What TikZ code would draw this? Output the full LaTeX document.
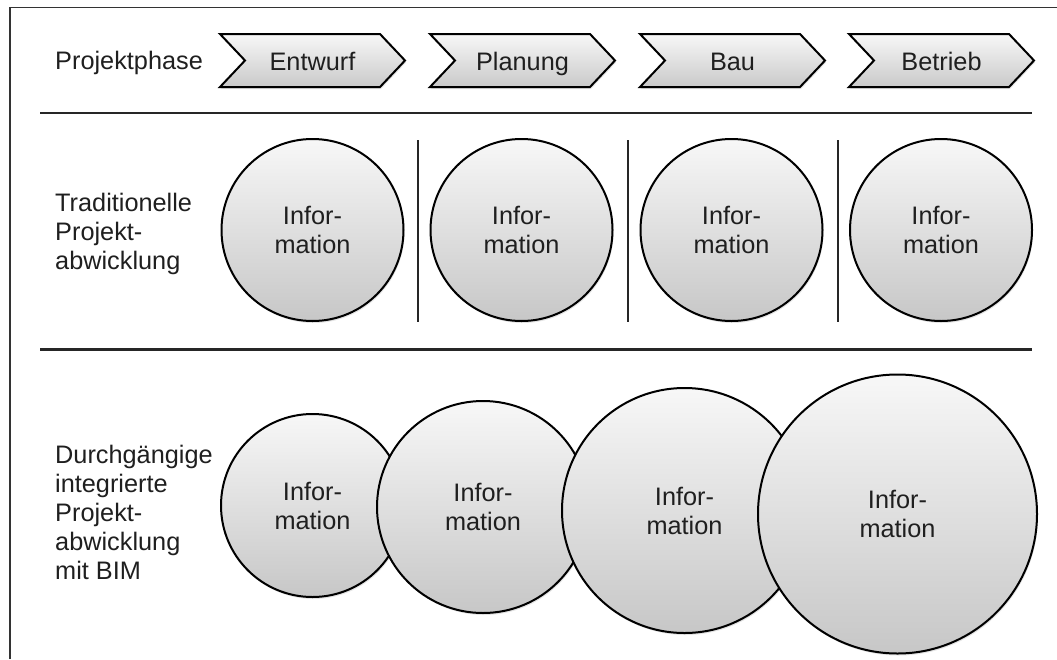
\documentclass[tikz,border=0pt]{standalone}
\usepackage{fontspec}
\setmainfont{Liberation Sans}
\usetikzlibrary{shadows}
\begin{document}
\begin{tikzpicture}[x=1pt,y=-1pt,
  txt/.style={font=\fontsize{25.3}{29}\selectfont, text=black!88, inner sep=0pt},
  bubble/.style={circle, draw=black, line width=2pt, top color=black!3, bottom color=black!22,
    inner sep=0pt, align=center, txt,
    drop shadow={shadow xshift=1pt, shadow yshift=-2pt, opacity=0.22}},
  chev/.style={draw=black, line width=2pt, line join=miter, top color=black!3, bottom color=black!21,
    drop shadow={shadow xshift=1pt, shadow yshift=-2pt, opacity=0.22}},
  rulel/.style={line width=2.2pt, draw=black!85},
  sepl/.style={line width=1.8pt, draw=black!85},
  framel/.style={line width=1.8pt, draw=black!80},
]
\useasboundingbox (0,0) rectangle (1057,659);
% frame
\draw[framel] (10,659) -- (10,7.5) -- (1057,7.5);

% row 1: phases
\node[txt, anchor=base west] (lab1) at (55,69) {Projektphase};
\foreach \x/\t/\n in {220/Entwurf/ph1, 430/Planung/ph2, 640/Bau/ph3, 849/Betrieb/ph4} {
  \draw[chev] (\x,34) -- ++(160,0) -- ++(25,26.5) -- ++(-25,26.5) -- ++(-160,0) -- ++(25,-26.5) -- cycle;
  \node[txt, anchor=base] (\n) at (\x+92.5,70.5) {\t};
}

% separating lines
\draw[rulel] (40,113) -- (1032,113);
\draw[rulel] (40,349.5) -- (1032,349.5);

% row 2: traditional
\node[txt, anchor=west, align=left] (lab2) at (55,234) {Traditionelle\\Projekt-\\abwicklung};
\foreach \x/\n in {312.5/t1, 521.5/t2, 731.5/t3, 941/t4} {
  \node[bubble, minimum size=182pt] (\n) at (\x,230) {Infor-\\mation};
}
\foreach \x in {418,628,838} {
  \draw[sepl] (\x,140) -- (\x,322);
}

% row 3: integrated BIM
\node[txt, anchor=west, align=left] (lab3) at (55,512) {Durchgängige\\integrierte\\Projekt-\\abwicklung\\mit BIM};
\node[bubble, minimum size=183pt] (b1) at (312.5,505.5) {Infor-\\mation};
\node[bubble, minimum size=212pt] (b2) at (483,507) {Infor-\\mation};
\node[bubble, minimum size=245pt] (b3) at (684.5,510.5) {Infor-\\mation};
\node[bubble, minimum size=279pt] (b4) at (897.5,514) {Infor-\\mation};
\end{tikzpicture}
\end{document}
